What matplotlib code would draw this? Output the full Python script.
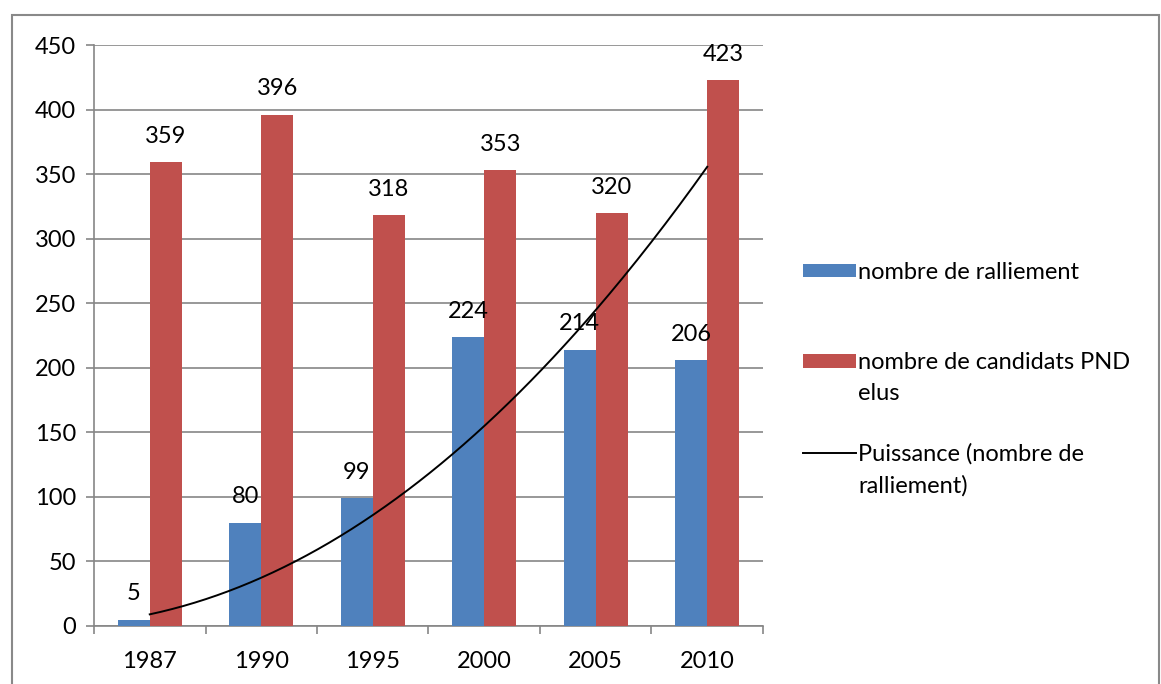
import numpy as np
import matplotlib.pyplot as plt
from matplotlib.patches import Rectangle
from matplotlib.legend_handler import HandlerPatch, HandlerLine2D

plt.rcParams['font.family'] = ['Lato', 'DejaVu Sans']

# data
years = ['1987', '1990', '1995', '2000', '2005', '2010']
ralliement = [5, 80, 99, 224, 214, 206]
candidats = [359, 396, 318, 353, 320, 423]
labels = ['nombre de ralliement\n', 'nombre de candidats PND\nelus',
          'Puissance (nombre de\nralliement)']

blue = '#4F81BD'
red = '#C0504D'
grid = '#868686'
fs = 17

# power trendline y = a * x^b fitted on ralliement (x = 1..n, as Excel does)
xn = np.arange(1, len(years) + 1)
b, lna = np.polyfit(np.log(xn), np.log(ralliement), 1)
xs = np.linspace(1, len(years), 200)
trend = np.exp(lna) * xs ** b

fig = plt.figure(figsize=(11.61, 6.84), dpi=100)
ax = fig.add_axes([94 / 1161, 1 - 626 / 684, (763 - 94) / 1161, (626 - 45) / 684])

x = np.arange(len(years))
w = 0.2857
b1 = ax.bar(x - w / 2, ralliement, w, color=blue, zorder=3)
b2 = ax.bar(x + w / 2, candidats, w, color=red, zorder=3)
tl, = ax.plot(xs - 1, trend, color='black', lw=1.4, zorder=4)

for bars, vals in ((b1, ralliement), (b2, candidats)):
    for r, v in zip(bars, vals):
        ax.annotate(str(v), (r.get_x() + r.get_width() / 2, v), xytext=(0, 11),
                    textcoords='offset points', ha='center', va='bottom', fontsize=fs)

ax.set_xlim(-0.5, len(years) - 0.5)
ax.set_ylim(0, 450)
ax.set_yticks(np.arange(0, 451, 50))
ax.set_xticks(x)
ax.set_xticklabels(years)
ax.set_xticks(np.arange(-0.5, len(years)), minor=True)
ax.tick_params(axis='x', which='major', length=0, pad=18, labelsize=fs)
ax.tick_params(axis='x', which='minor', length=6, color=grid, width=1.2)
ax.tick_params(axis='y', length=6, color=grid, width=1.2, pad=7, labelsize=fs)
ax.yaxis.grid(True, color=grid, lw=1.2, zorder=0)
for s in ('top', 'right'):
    ax.spines[s].set_visible(False)
for s in ('left', 'bottom'):
    ax.spines[s].set_color(grid)
    ax.spines[s].set_linewidth(1.2)


# legend handles sit on the first line of each two-line label
sh = 12.5


class TopPatch(HandlerPatch):
    def create_artists(self, legend, h, xd, yd, wd, ht, fsz, trans):
        return super().create_artists(legend, h, xd, yd - sh, wd, ht, fsz, trans)


class TopLine(HandlerLine2D):
    def create_artists(self, legend, h, xd, yd, wd, ht, fsz, trans):
        return super().create_artists(legend, h, xd, yd - 2 * sh, wd, ht, fsz, trans)


hb, hr = b1.patches[0], b2.patches[0]
leg = fig.legend([hb, hr, tl], labels, loc='upper left',
                 bbox_to_anchor=(791 / 1161, 1 - 250 / 684),
                 frameon=False, fontsize=fs, handlelength=2.25, handleheight=0.5,
                 handletextpad=0.1, labelspacing=1.62, borderpad=0,
                 handler_map={hb: TopPatch(), hr: TopPatch(), tl: TopLine()})
for t in leg.get_texts():
    t.set_linespacing(1.6)

fig.add_artist(Rectangle((12 / 1161, -0.02), (1159 - 12) / 1161, 1 - 15 / 684 + 0.02,
                         transform=fig.transFigure, fill=False, edgecolor='#898989', lw=1.5))

fig.savefig('out.png', dpi=100)
